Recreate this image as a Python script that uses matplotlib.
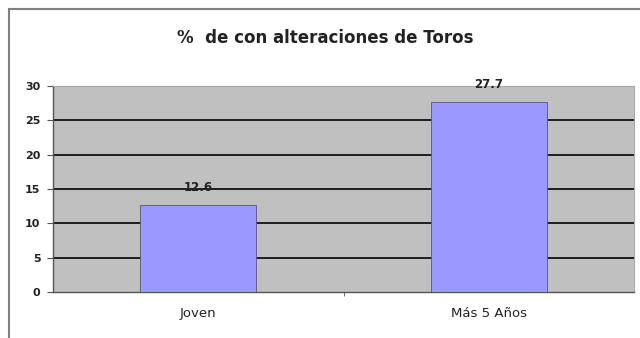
import matplotlib
matplotlib.use('Agg')
import matplotlib.pyplot as plt
from matplotlib.patches import Rectangle

categories = ['Joven', 'Más 5 Años']
values = [12.6, 27.7]
value_labels = ['12.6', '27.7']
yticks = [0, 5, 10, 15, 20, 25, 30]
title = '%  de con alteraciones de Toros'

plt.rcParams['font.family'] = ['DejaVu Sans']

fig = plt.figure(figsize=(6.4, 3.38), dpi=100)
fig.patch.set_facecolor('white')

# outer chart frame (runs off the right and bottom edges)
fig.patches.append(Rectangle((9/640, -0.1), 1.2, 1 - 9/338 + 0.1, transform=fig.transFigure,
                             fill=False, edgecolor='#808080', linewidth=1.5))

ax = fig.add_axes([53/640, 46/338, 581/640, 206/338])
ax.set_facecolor('#C0C0C0')

# gridlines only between bottom and top (Excel style, none at the top)
for t in yticks[1:-1]:
    ax.axhline(t, color='#111111', linewidth=1.3, zorder=1)

x = range(len(categories))
ax.bar(x, values, width=0.4, color='#9999FF', edgecolor='#555577', linewidth=0.6, zorder=3)
for i, v in enumerate(values):
    ax.text(i, v + 1.6, value_labels[i], ha='center', va='bottom', fontsize=8.5,
            fontweight='bold', color='#222222')

ax.set_xlim(-0.5, 1.5)
ax.set_ylim(0, 30)
ax.set_yticks(yticks)
ax.set_yticklabels([str(t) for t in yticks], fontsize=8, fontweight='bold', color='#222222')

ax.set_xticks(list(x))
ax.set_xticklabels(categories, fontsize=9.5, color='#222222')
ax.set_xticks([0.5], minor=True)
ax.tick_params(axis='x', which='major', length=0, pad=11)
ax.tick_params(axis='x', which='minor', length=3, color='#555555')
ax.tick_params(axis='y', length=4, color='#555555', pad=5)

for side in ['top', 'right']:
    ax.spines[side].set_color('#A8A8A8')
    ax.spines[side].set_linewidth(0.8)
for side in ['left', 'bottom']:
    ax.spines[side].set_color('#555555')
    ax.spines[side].set_linewidth(1.0)

fig.text(325/640, 1 - 38/338, title, ha='center', va='center', fontsize=12,
         fontweight='bold', color='#222222')

fig.savefig('out.png', dpi=100, facecolor='white')
